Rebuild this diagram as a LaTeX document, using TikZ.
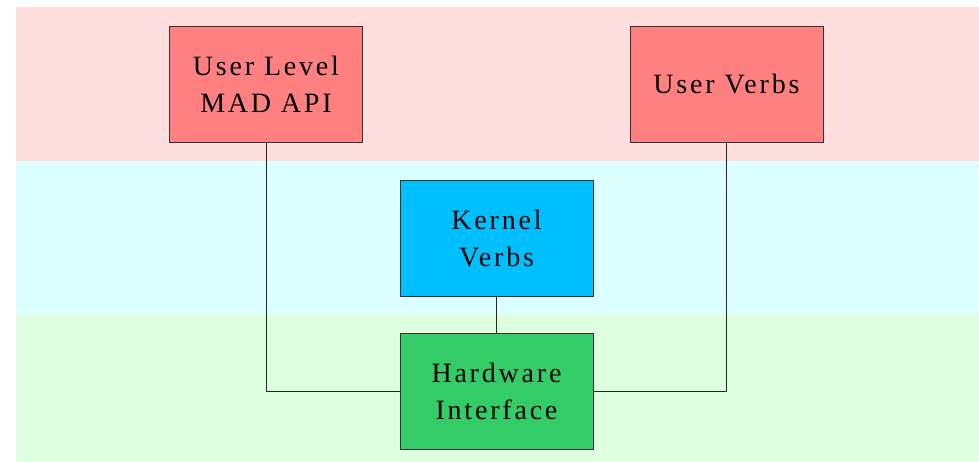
\documentclass[tikz,border=0pt]{standalone}
\usepackage{fontspec}
\setmainfont{Liberation Serif}[LetterSpace=10]
\begin{document}
\begin{tikzpicture}[x=1pt,y=-1pt,
  block/.style={draw=black!80, line width=0.8pt, minimum width=193pt, minimum height=116pt,
    align=center, font=\fontsize{28}{37}\selectfont, inner sep=0pt},
  wire/.style={draw=black!85, line width=0.6pt}]
\definecolor{bandPink}{HTML}{FFDEDE}
\definecolor{bandCyan}{HTML}{DEFFFF}
\definecolor{bandGreen}{HTML}{DEFFDE}
\definecolor{userRed}{HTML}{FF8080}
\definecolor{kernBlue}{HTML}{00BFFF}
\definecolor{hwGreen}{HTML}{33CC66}
\useasboundingbox (0,0) rectangle (979,462);
\fill[white] (0,0) rectangle (979,462);
% layer bands
\fill[bandPink]  (16,7)   rectangle (979,161);
\fill[bandCyan]  (16,161) rectangle (979,315);
\fill[bandGreen] (16,315) rectangle (979,462);
% blocks
\node[block, fill=userRed]  (mad)    at (266,84)  {User Level\\MAD API};
\node[block, fill=userRed]  (uverbs) at (726.5,84) {User Verbs};
\node[block, fill=kernBlue] (kverbs) at (496.5,238) {Kernel\\Verbs};
\node[block, fill=hwGreen]  (hw)     at (496.5,391.5) {Hardware\\Interface};
% connectors
\draw[wire] (mad.south) |- (hw.west);
\draw[wire] (uverbs.south) |- (hw.east);
\draw[wire] (kverbs.south) -- (hw.north);
\end{tikzpicture}
\end{document}
